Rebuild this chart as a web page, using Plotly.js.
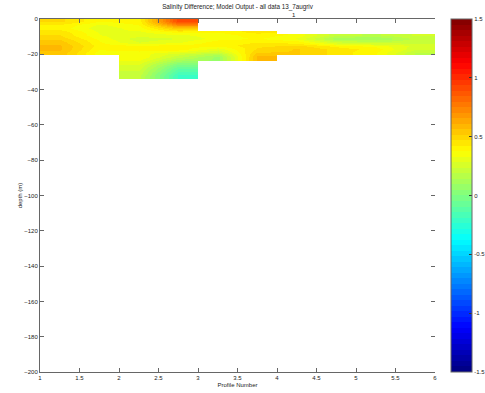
<!DOCTYPE html>
<html>
<head>
<meta charset="utf-8">
<script src="https://cdn.plot.ly/plotly-3.0.1.min.js"></script>
<style>html,body{margin:0;padding:0;background:#fff;}#chart{width:485px;height:393px;}</style>
</head>
<body>
<div id="chart"></div>
<script>
// Brick edges of the gridded field (profile number, depth in m)
const profileEdges = [1, 1.5, 2, 2.5, 3, 3.5, 4, 4.5, 5, 5.5, 6];
const depthEdges = [-34, -30, -26, -23, -20, -18, -16, -14, -12, -10, -8, -6, -4, -2, 0];

// Salinity difference, one row per depth band (deepest first), one value per profile column
const row_34_30 = [null, null, 0.20, -0.20, null, null, null, null, null, null];
const row_30_26 = [null, null, 0.25, -0.10, null, null, null, null, null, null];
const row_26_23 = [null, null, 0.30, 0.05, null, null, null, null, null, null];
const row_23_20 = [null, null, 0.37, 0.20, 0.08, 0.58, null, null, null, null];
const row_20_18 = [0.55, 0.35, 0.35, 0.30, 0.22, 0.52, 0.52, 0.45, 0.38, 0.18];
const row_18_16 = [0.57, 0.38, 0.40, 0.40, 0.30, 0.48, 0.52, 0.45, 0.40, 0.24];
const row_16_14 = [0.57, 0.40, 0.38, 0.40, 0.40, 0.45, 0.48, 0.40, 0.35, 0.27];
const row_14_12 = [0.54, 0.38, 0.28, 0.32, 0.40, 0.42, 0.40, 0.24, 0.20, 0.22];
const row_12_10 = [0.50, 0.36, 0.25, 0.28, 0.35, 0.38, 0.32, 0.10, 0.08, 0.20];
const row_10_8  = [0.47, 0.33, 0.30, 0.32, 0.35, 0.40, 0.36, 0.20, 0.18, 0.24];
const row_8_6   = [0.45, 0.32, 0.32, 0.40, 0.38, 0.45, null, null, null, null];
const row_6_4   = [0.40, 0.30, 0.35, 0.55, null, null, null, null, null, null];
const row_4_2   = [0.42, 0.32, 0.38, 0.75, null, null, null, null, null, null];
const row_2_0   = [0.48, 0.38, 0.40, 0.92, null, null, null, null, null, null];

const salDiff = [row_34_30, row_30_26, row_26_23, row_23_20, row_20_18, row_18_16,
  row_16_14, row_14_12, row_12_10, row_10_8, row_8_6, row_6_4, row_4_2, row_2_0];

const xTickVals = [1, 1.5, 2, 2.5, 3, 3.5, 4, 4.5, 5, 5.5, 6];
const xTickText = ['1', '1.5', '2', '2.5', '3', '3.5', '4', '4.5', '5', '5.5', '6'];
const yTickVals = [-200, -180, -160, -140, -120, -100, -80, -60, -40, -20, 0];
const cbTickVals = [-1.5, -1, -0.5, 0, 0.5, 1, 1.5];
const cbTickText = ['-1.5', '-1', '-0.5', '0', '0.5', '1', '1.5'];

// 64-step "jet" colormap (style)
function jetStepped(n) {
  const cl = v => Math.max(0, Math.min(1, v));
  const out = [];
  for (let i = 0; i < n; i++) {
    const t = (i + 0.5) / n;
    const r = Math.round(255 * cl(Math.min(4 * t - 1.5, -4 * t + 4.5)));
    const g = Math.round(255 * cl(Math.min(4 * t - 0.5, -4 * t + 3.5)));
    const b = Math.round(255 * cl(Math.min(4 * t + 0.5, -4 * t + 2.5)));
    const c = 'rgb(' + r + ',' + g + ',' + b + ')';
    out.push([i / n, c]);
    out.push([(i + 1) / n, c]);
  }
  return out;
}

const fam = 'Liberation Sans, Arial, sans-serif';
const font = {family: fam, size: 6, color: '#222'};
const axisColor = '#666';

const trace = {
  type: 'heatmap',
  x: profileEdges,
  y: depthEdges,
  z: salDiff,
  zmin: -1.5, zmax: 1.5,
  zsmooth: 'best',
  colorscale: jetStepped(64),
  hoverongaps: false,
  colorbar: {
    x: 1.0405, xanchor: 'left', xref: 'paper',
    y: 0.5, yanchor: 'middle', len: 1, lenmode: 'fraction',
    thickness: 21, thicknessmode: 'pixels',
    xpad: 0, ypad: 0,
    outlinewidth: 1, outlinecolor: axisColor,
    tickmode: 'array', tickvals: cbTickVals, ticktext: cbTickText,
    ticks: 'inside', ticklen: 3, tickcolor: '#333',
    tickfont: font
  }
};

// dummy trace to carry the right-hand mirrored ticks (no line)
const rightTicks = {
  type: 'scatter', x: [null], y: [null], yaxis: 'y2', showlegend: false, hoverinfo: 'skip'
};

const layout = {
  width: 485, height: 393,
  margin: {l: 40, r: 50, t: 19, b: 21, pad: 0, autoexpand: false},
  paper_bgcolor: '#fff', plot_bgcolor: '#fff',
  font: font,
  showlegend: false,
  title: {
    text: 'Salinity Difference; Model Output - all data 13_7augriv',
    font: {family: fam, size: 6.3, color: '#222'},
    x: 0.5, xref: 'paper', xanchor: 'center',
    y: 1 - 7 / 393, yref: 'container', yanchor: 'middle'
  },
  xaxis: {
    range: [1, 6], tickmode: 'array', tickvals: xTickVals, ticktext: xTickText,
    ticks: 'inside', ticklen: 4, tickcolor: axisColor,
    showline: true, linecolor: axisColor, linewidth: 1, mirror: 'ticks',
    showgrid: false, zeroline: false, tickfont: font, automargin: false,
    title: {text: 'Profile Number', font: font, standoff: 2}
  },
  yaxis: {
    range: [-200, 0], tickmode: 'array', tickvals: yTickVals,
    ticks: 'inside', ticklen: 4, tickcolor: axisColor,
    showline: true, linecolor: axisColor, linewidth: 1,
    showgrid: false, zeroline: false, tickfont: font, automargin: false,
    title: {text: 'depth (m)', font: font, standoff: 1}
  },
  yaxis2: {
    overlaying: 'y', side: 'right', matches: 'y', range: [-200, 0],
    tickmode: 'array', tickvals: yTickVals,
    ticks: 'inside', ticklen: 4, tickcolor: axisColor,
    showline: false, showgrid: false, zeroline: false, showticklabels: false
  },
  annotations: [{
    text: '1', xref: 'paper', yref: 'paper', x: 0.643, y: 1 + 3.8 / 353,
    xanchor: 'center', yanchor: 'middle', showarrow: false, font: font
  }]
};

Plotly.newPlot('chart', [trace, rightTicks], layout, {displayModeBar: false, staticPlot: true});
</script>
</body>
</html>
